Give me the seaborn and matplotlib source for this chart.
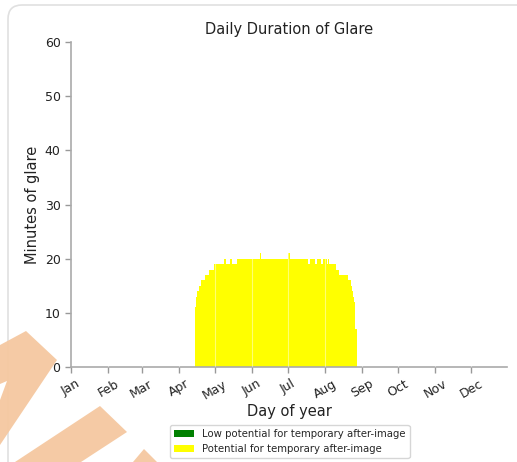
import numpy as np
import pandas as pd
import matplotlib
matplotlib.use("Agg")
import matplotlib.pyplot as plt
import seaborn as sns
from matplotlib.patches import Patch, Polygon, FancyBboxPatch

# ---------------- data ----------------
first_day = 104  # day-of-year of the first bar with glare
potential_minutes = [
    11, 13, 14, 15, 15, 16, 16, 16, 17, 17, 17, 17, 18, 18, 18, 18,      # 104-119
    19, 19, 19, 19, 19, 19, 19, 19, 20, 20, 19, 19, 19, 20, 20, 19,      # 120-135
    19, 19, 19, 20, 20, 20, 20, 20, 20, 20, 20, 20, 20, 20, 20, 20,      # 136-151
    20, 20, 20, 20, 20, 20, 21, 20, 20, 20, 20, 20, 20, 20, 20, 20,      # 152-167
    20, 20, 20, 20, 20, 20, 20, 20, 20, 20, 20, 20, 20, 20, 21, 20,      # 168-183
    20, 20, 20, 20, 20, 20, 20, 20, 20, 20, 20, 20, 20, 20, 19, 19,      # 184-199
    20, 20, 20, 20, 19, 19, 20, 20, 20, 19, 19, 20, 20, 20, 19, 20,      # 200-215
    19, 19, 19, 19, 19, 19, 18, 18, 17, 17, 17, 17, 17, 17, 17, 17,      # 216-231
    16, 16, 15, 14, 13, 12, 7,                                           # 232-238
]
days = list(range(first_day, first_day + len(potential_minutes)))
low_minutes = [0] * len(potential_minutes)

series_labels = ["Low potential for temporary after-image",
                 "Potential for temporary after-image"]
series_colors = ["green", "yellow"]

month_starts = [0, 31, 59, 90, 120, 151, 181, 212, 243, 273, 304, 334]
month_labels = ["Jan", "Feb", "Mar", "Apr", "May", "Jun",
                "Jul", "Aug", "Sep", "Oct", "Nov", "Dec"]
y_ticks = [0, 10, 20, 30, 40, 50, 60]

df = pd.DataFrame({
    "day": days + days,
    "minutes": low_minutes + potential_minutes,
    "category": [series_labels[0]] * len(days) + [series_labels[1]] * len(days),
})

# ---------------- figure ----------------
sns.set_style("ticks")
plt.rcParams["font.family"] = ["DejaVu Sans"]

W, H = 517, 462
fig = plt.figure(figsize=(W / 100, H / 100), dpi=100)
fig.patch.set_facecolor("white")

# page frame (rounded card border)
frame = FancyBboxPatch((8, -60), 700, H - 5 + 60, boxstyle="round,pad=0,rounding_size=14",
                       transform=None, facecolor="none", edgecolor="#e0e0e0",
                       linewidth=1.2, zorder=0)
fig.add_artist(frame)

ax = fig.add_axes([71 / W, 1 - 367 / H, (507 - 71) / W, (367 - 42) / H])
ax.set_facecolor("none")

sns.histplot(data=df, x="day", weights="minutes", hue="category",
             hue_order=series_labels, palette=dict(zip(series_labels, series_colors)),
             multiple="stack", discrete=True, shrink=1.0, alpha=1.0,
             linewidth=0, legend=False, ax=ax)

# faint month separators over the bars
for m in month_starts[1:]:
    ax.axvline(m, color="white", alpha=0.45, linewidth=0.8, zorder=3)

ax.set_xlim(0, 364)
ax.set_ylim(0, 60)
ax.set_yticks(y_ticks)
ax.set_xticks(month_starts)
ax.set_xticklabels(month_labels, rotation=30, ha="center")
ax.tick_params(axis="both", labelsize=9, colors="#999999", labelcolor="#222222",
               length=4, width=1.0)
for s in ["top", "right"]:
    ax.spines[s].set_visible(False)
for s in ["left", "bottom"]:
    ax.spines[s].set_color("#aaaaaa")
    ax.spines[s].set_linewidth(1.2)

ax.set_title("Daily Duration of Glare", fontsize=10.5, color="#222222")
ax.set_xlabel("Day of year", fontsize=10.5, color="#222222", labelpad=2)
ax.set_ylabel("Minutes of glare", fontsize=10.5, color="#222222", labelpad=3)

handles = [Patch(facecolor=c, edgecolor="none", label=l)
           for c, l in zip(series_colors, series_labels)]
leg = fig.legend(handles=handles, loc="upper center",
                 bbox_to_anchor=(289.5 / W, 1 - 420 / H), fontsize=7.3,
                 frameon=True, fancybox=True, edgecolor="#cccccc",
                 handlelength=2.0, borderpad=0.4, labelspacing=0.45)

# decorative orange stripes of the page background (pixel coords, y from top)
stripes = [
    [(0, 345), (26, 331), (57, 360), (0, 445), (0, 400), (7, 381), (0, 384)],
    [(100, 406), (127, 432), (81, 462), (15, 462)],
    [(144, 449), (157, 462), (133, 462)],
]
for pts in stripes:
    poly = Polygon([(x, H - y) for x, y in pts], closed=True, transform=None,
                   facecolor="#f5c8a0", edgecolor="none", alpha=0.95, zorder=5)
    fig.add_artist(poly)

fig.savefig("out.png", dpi=100)
